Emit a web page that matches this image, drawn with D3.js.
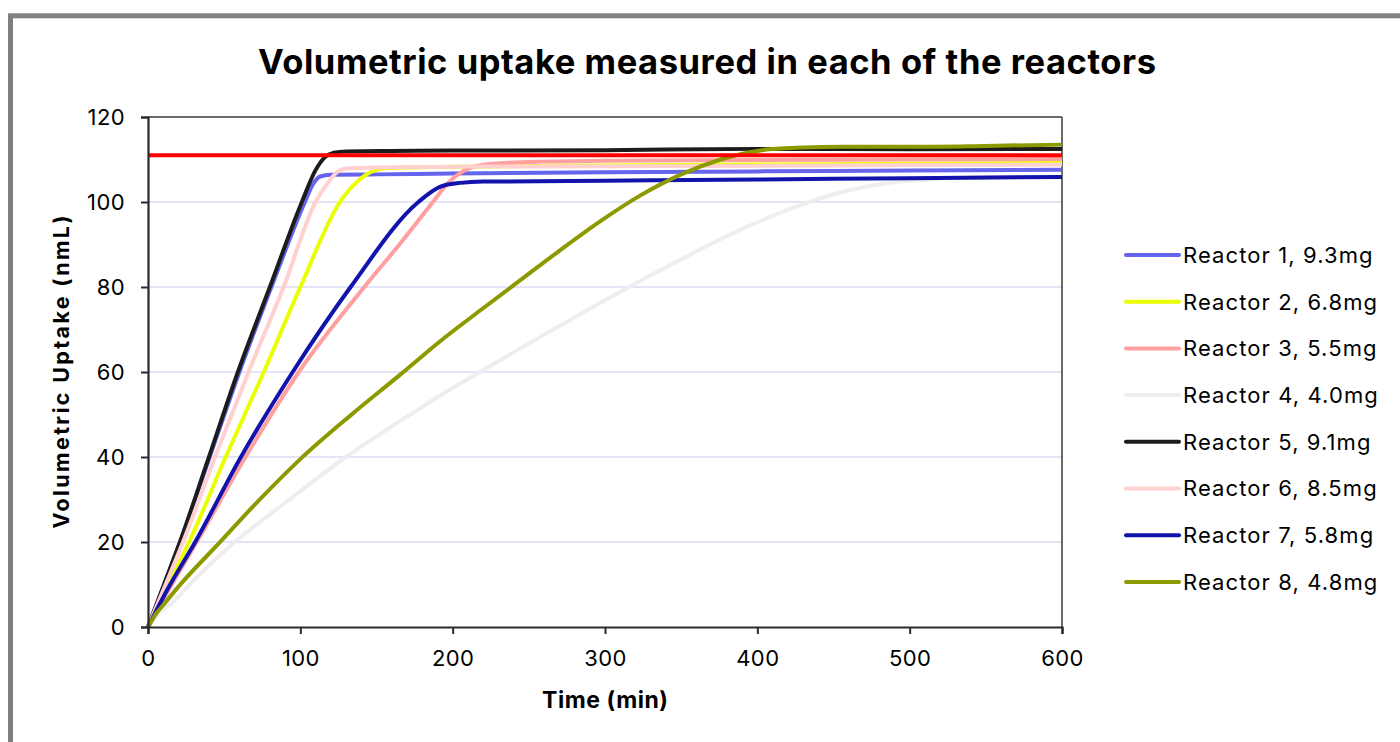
<!DOCTYPE html>
<html>
<head>
<meta charset="utf-8">
<script src="https://cdn.jsdelivr.net/npm/d3@7"></script>
<style>
  html, body { margin: 0; padding: 0; background: #ffffff; }
  svg { display: block; }
  text { font-family: Inter, "DejaVu Sans", sans-serif; fill: #000; }
</style>
</head>
<body>
<svg id="chart" width="1400" height="742"></svg>
<script>
// ---------- data ----------
const chartTitle = "Volumetric uptake measured in each of the reactors";
const xTitle = "Time (min)";
const yTitle = "Volumetric Uptake (nmL)";
const xTicks = [0, 100, 200, 300, 400, 500, 600];
const yTicks = [0, 20, 40, 60, 80, 100, 120];
const targetValue = 111;

const seriesNames = [
  "Reactor 1, 9.3mg", "Reactor 2, 6.8mg", "Reactor 3, 5.5mg", "Reactor 4, 4.0mg",
  "Reactor 5, 9.1mg", "Reactor 6, 8.5mg", "Reactor 7, 5.8mg", "Reactor 8, 4.8mg"
];
const seriesColors = ["#6464ec", "#eaff00", "#ffa0a0", "#efedef", "#1c1c1c", "#ffd0d0", "#1212ac", "#8c9a00"];

// [time (min), uptake (nmL)]
const reactor1 = [[0,0],[10,9.5],[21,20],[40.5,40],[60,60],[81,80],[103,100],[108,104],[113,106],[120,106.4],[150,106.5],[200,106.7],[300,107],[400,107.2],[500,107.4],[600,107.6]];
const reactor2 = [[0,0],[12,9],[27,20],[51,40],[76,60],[100,80],[126,100],[138,105],[148,107.3],[158,108],[200,108.3],[300,108.6],[400,108.8],[500,109],[600,109.2]];
const reactor3 = [[0,0],[14,9],[32,20],[64,40],[99,60],[142,80],[165,90],[187,100],[197,104.5],[207,107.3],[223,108.9],[257,109.5],[300,109.7],[400,109.9],[500,110],[600,110.1]];
const reactor4 = [[0,0],[8,3.5],[15.5,5.6],[30,11],[57,20],[93,30],[130,40],[170,49.5],[192,54.5],[218,60],[244,65.5],[271,71],[297,76.3],[323,81.4],[350,86.5],[376,91.3],[403,95.7],[429,99.4],[455,102.3],[482,104.3],[510,105.3],[550,105.8],[600,106]];
const reactor5 = [[0,0],[10,9.5],[21,20],[40,40],[59,60],[80,80],[101,100],[110,107.5],[116,110.5],[122,111.6],[130,111.9],[160,112],[200,112.1],[300,112.2],[400,112.5],[500,112.4],[600,112.5]];
const reactor6 = [[0,0],[11,9.5],[23,20],[44,40],[66,60],[89,80],[110,100],[118,104.5],[124,107],[130,107.9],[150,108.1],[200,108.3],[300,108.4],[400,108.5],[500,108.7],[600,108.8]];
const reactor7 = [[0,0],[13,9],[31,20],[61,40],[95,60],[133,80],[177.5,100],[192,103.6],[205,104.5],[220,104.8],[300,105],[400,105.3],[500,105.6],[600,105.9]];
const reactor8 = [[0,0],[5,3],[11,5.6],[20,9.5],[46,19.5],[72,29.5],[100,39.5],[133,49.8],[166,59.5],[192,67.3],[220,75],[244,81.5],[270,88.5],[297,95.5],[323,101.5],[350,106.5],[376,110],[403,112.2],[430,112.8],[455,113],[500,113],[550,113.2],[600,113.5]];
const allSeries = [reactor1, reactor2, reactor3, reactor4, reactor5, reactor6, reactor7, reactor8];

// ---------- layout ----------
const svg = d3.select("#chart");
const plot = { left: 148, top: 117, right: 1062, bottom: 627 };

// outer frame (clipped by the window on right/bottom)
svg.append("rect")
  .attr("x", 10.5).attr("y", 15.8)
  .attr("width", 1500).attr("height", 1000)
  .attr("fill", "none").attr("stroke", "#808080").attr("stroke-width", 5);

const x = d3.scaleLinear().domain([0, 600]).range([plot.left, plot.right]);
const y = d3.scaleLinear().domain([0, 120]).range([plot.bottom, plot.top]);

// gridlines
svg.append("g")
  .selectAll("line")
  .data(yTicks.filter(d => d > 0 && d < 120))
  .join("line")
  .attr("x1", plot.left).attr("x2", plot.right)
  .attr("y1", d => y(d)).attr("y2", d => y(d))
  .attr("stroke", "#e4e4f8").attr("stroke-width", 2);

// frame top & right
svg.append("line").attr("x1", plot.left).attr("x2", plot.right).attr("y1", plot.top).attr("y2", plot.top)
  .attr("stroke", "#3a3a3a").attr("stroke-width", 1.5);
svg.append("line").attr("x1", plot.right).attr("x2", plot.right).attr("y1", plot.top).attr("y2", plot.bottom)
  .attr("stroke", "#3a3a3a").attr("stroke-width", 1.5);

// series
const line = d3.line().x(d => x(d[0])).y(d => y(d[1])).curve(d3.curveMonotoneX);
svg.append("g")
  .selectAll("path")
  .data(allSeries)
  .join("path")
  .attr("d", d => line(d))
  .attr("fill", "none")
  .attr("stroke", (d, i) => seriesColors[i])
  .attr("stroke-width", 4)
  .attr("stroke-linejoin", "round");

// target line
svg.append("path")
  .attr("d", line([[0, targetValue], [600, targetValue]]))
  .attr("stroke", "#ff0000").attr("stroke-width", 4).attr("fill", "none");

// axes
const xAxis = d3.axisBottom(x).tickValues(xTicks).tickSize(7).tickPadding(16);
const gx = svg.append("g").attr("transform", `translate(0,${plot.bottom})`).call(xAxis);
gx.select(".domain").attr("stroke", "#2a2a2a").attr("stroke-width", 2.2);
gx.selectAll(".tick line").attr("stroke", "#2a2a2a").attr("stroke-width", 2);
gx.selectAll(".tick text").attr("font-size", 22).attr("letter-spacing", 0.4)
  .attr("font-family", "Inter, sans-serif").attr("fill", "#000");

const yAxis = d3.axisLeft(y).tickValues(yTicks).tickSize(7).tickPadding(16);
const gy = svg.append("g").attr("transform", `translate(${plot.left},0)`).call(yAxis);
gy.select(".domain").attr("stroke", "#2a2a2a").attr("stroke-width", 2.2);
gy.selectAll(".tick line").attr("stroke", "#2a2a2a").attr("stroke-width", 2);
gy.selectAll(".tick text").attr("font-size", 22).attr("letter-spacing", 0.4)
  .attr("font-family", "Inter, sans-serif").attr("fill", "#000");

// titles
svg.append("text").attr("x", 707).attr("y", 74).attr("text-anchor", "middle")
  .attr("font-size", 34.5).attr("font-weight", 700)
  .attr("textLength", 898).attr("lengthAdjust", "spacing").text(chartTitle);
svg.append("text").attr("x", 605).attr("y", 708).attr("text-anchor", "middle")
  .attr("font-size", 23).attr("font-weight", 700)
  .attr("textLength", 126).attr("lengthAdjust", "spacing").text(xTitle);
svg.append("text").attr("transform", "translate(69,372) rotate(-90)").attr("text-anchor", "middle")
  .attr("font-size", 21.5).attr("font-weight", 700)
  .attr("textLength", 313).attr("lengthAdjust", "spacing").text(yTitle);

// legend
const legend = svg.append("g").selectAll("g").data(seriesNames).join("g")
  .attr("transform", (d, i) => `translate(1126,${255 + i * 46.7})`);
legend.append("line").attr("x1", 0).attr("x2", 53).attr("y1", 0).attr("y2", 0)
  .attr("stroke", (d, i) => seriesColors[i]).attr("stroke-width", 4).attr("stroke-linecap", "round");
legend.append("text").attr("x", 57).attr("y", 0).attr("dy", "0.36em")
  .attr("font-size", 22).attr("letter-spacing", 1.1).text(d => d);
</script>
</body>
</html>
